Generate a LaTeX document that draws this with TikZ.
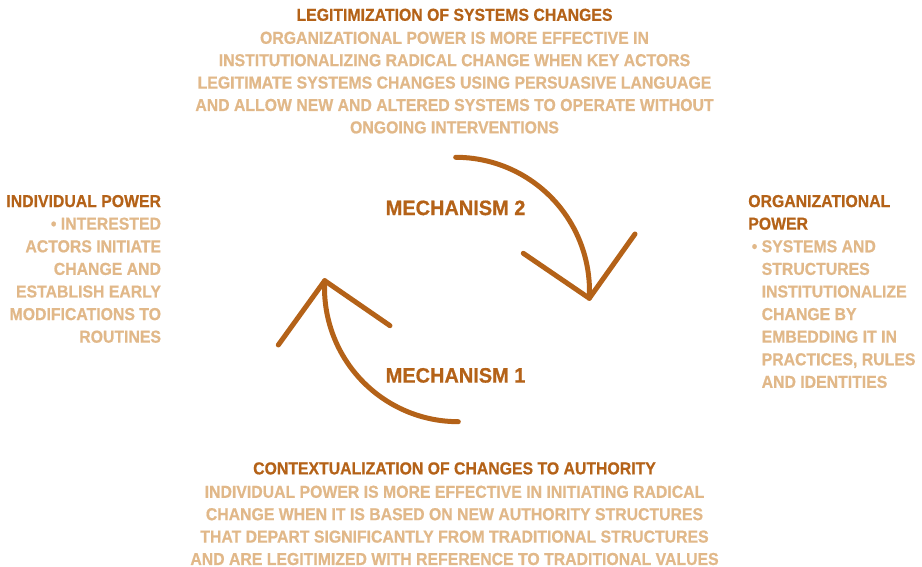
\documentclass[tikz,border=0pt]{standalone}
\usepackage{fontspec}
\newfontfamily\lblfont{Liberation Sans}[FakeStretch=0.914,FakeBold=0.7]
\newfontfamily\mechfont{Liberation Sans}[FakeStretch=0.955,FakeBold=0.7]
\definecolor{rustdark}{RGB}{180,98,24}
\definecolor{rustlight}{RGB}{225,184,137}
\begin{document}
\begin{tikzpicture}[x=1pt,y=1pt,
  txt/.style={inner sep=0pt, outer sep=0pt, font=\lblfont\bfseries\fontsize{17.3}{22.4}\selectfont},
  sidetxt/.style={font=\lblfont\bfseries\fontsize{17.3}{22.6}\selectfont},
  heading/.style={txt, text=rustdark},
  bodytext/.style={txt, text=rustlight},
  mechlabel/.style={inner sep=0pt, outer sep=0pt, text=rustdark, font=\mechfont\bfseries\fontsize{20.9}{25}\selectfont},
  cycleline/.style={draw=rustdark, line width=5pt, line cap=round, line join=round}]
\useasboundingbox (0,0) rectangle (922,567);

% top block: legitimization
\node[heading, anchor=north] (legTitle) at (454.5,558.3) {LEGITIMIZATION OF SYSTEMS CHANGES};
\node[bodytext, anchor=north, align=center] (legBody) at (454.5,535.3)
  {ORGANIZATIONAL POWER IS MORE EFFECTIVE IN\\
   INSTITUTIONALIZING RADICAL CHANGE WHEN KEY ACTORS\\
   LEGITIMATE SYSTEMS CHANGES USING PERSUASIVE LANGUAGE\\
   AND ALLOW NEW AND ALTERED SYSTEMS TO OPERATE WITHOUT\\
   ONGOING INTERVENTIONS};

% bottom block: contextualization
\node[heading, anchor=north] (ctxTitle) at (454.5,104.7) {CONTEXTUALIZATION OF CHANGES TO AUTHORITY};
\node[bodytext, anchor=north, align=center] (ctxBody) at (454.5,81.3)
  {INDIVIDUAL POWER IS MORE EFFECTIVE IN INITIATING RADICAL\\
   CHANGE WHEN IT IS BASED ON NEW AUTHORITY STRUCTURES\\
   THAT DEPART SIGNIFICANTLY FROM TRADITIONAL STRUCTURES\\
   AND ARE LEGITIMIZED WITH REFERENCE TO TRADITIONAL VALUES};

% left block: individual power
\node[heading, sidetxt, anchor=north east] (indTitle) at (161,372) {INDIVIDUAL POWER};
\node[bodytext, sidetxt, anchor=north east, align=right] (indBody) at (161,349.4)
  {• INTERESTED\\
   ACTORS INITIATE\\
   CHANGE AND\\
   ESTABLISH EARLY\\
   MODIFICATIONS TO\\
   ROUTINES};

% right block: organizational power
\node[heading, sidetxt, anchor=north west, align=left] (orgTitle) at (748.3,372) {ORGANIZATIONAL\\POWER};
\node[bodytext, sidetxt, anchor=north west, align=left] (orgBody) at (761.7,326.8)
  {\llap{• }SYSTEMS AND\\
   STRUCTURES\\
   INSTITUTIONALIZE\\
   CHANGE BY\\
   EMBEDDING IT IN\\
   PRACTICES, RULES\\
   AND IDENTITIES};

% mechanism labels
\node[mechlabel, anchor=north west] (mechTwo) at (385.7,366.5) {MECHANISM 2};
\node[mechlabel, anchor=north west] (mechOne) at (385.7,199) {MECHANISM 1};

% cycle arrows
\coordinate (twoStart) at (455.7,409.7);
\coordinate (twoTip) at (589.3,268.7);
\coordinate (twoArmL) at (523.3,313.7);
\coordinate (twoArmR) at (635,333);
\coordinate (oneStart) at (458.3,145.3);
\coordinate (oneTip) at (324.7,286.3);
\coordinate (oneArmL) at (278.3,222);
\coordinate (oneArmR) at (390,241.3);

\draw[cycleline] (twoStart) arc[start angle=90, end angle=-3.1, radius=133.8];
\draw[cycleline] (twoArmL) -- (twoTip) -- (twoArmR);
\draw[cycleline] (oneStart) arc[start angle=270, end angle=176.9, radius=133.8];
\draw[cycleline] (oneArmR) -- (oneTip) -- (oneArmL);
\end{tikzpicture}
\end{document}
